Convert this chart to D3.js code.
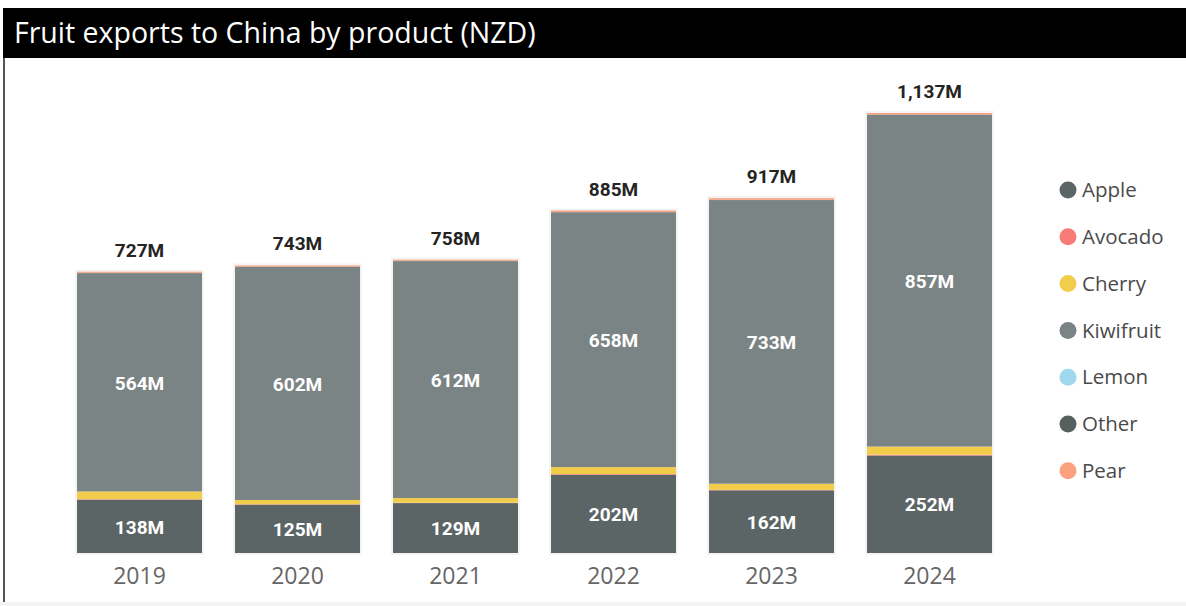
<!DOCTYPE html>
<html>
<head>
<meta charset="utf-8">
<script src="https://cdn.jsdelivr.net/npm/d3@7"></script>
<style>
  body { margin: 0; background: #fff; }
  svg { display: block; }
</style>
</head>
<body>
<div class="chart"></div>
<script>
// years on the x axis
var years = ["2019", "2020", "2021", "2022", "2023", "2024"];
// stack order, bottom to top
var products = ["Apple", "Avocado", "Cherry", "Kiwifruit", "Lemon", "Other", "Pear"];
var productColors = ["#5b6565", "#f77b77", "#f2cd4c", "#7b8484", "#9fd8eb", "#58605f", "#fba17e"];

// values in NZD millions
var apple     = [138, 125, 129, 202, 162, 252];
var avocado   = [1, 1, 1, 2, 1, 2];
var cherry    = [20, 11, 12, 18, 16, 21];
var kiwifruit = [564, 602, 612, 658, 733, 857];
var lemon     = [0, 0, 0, 0, 0, 0];
var other     = [1, 1, 1, 1, 1, 1];
var pear      = [3, 3, 3, 4, 4, 4];
var totals    = [727, 743, 758, 885, 917, 1137];

// only these segments carry an inside label
var labelled = ["Apple", "Kiwifruit"];

var width = 1186, height = 606;

var svg = d3.select(".chart").append("svg")
    .attr("width", width)
    .attr("height", height);

/************* frame + title ***************/
svg.append("rect")
    .attr("x", 0).attr("y", 602).attr("width", width).attr("height", 4)
    .attr("fill", "#f3f3f3");
svg.append("rect")
    .attr("x", 3).attr("y", 8).attr("width", 2).attr("height", 594)
    .attr("fill", "#555");
svg.append("rect")
    .attr("x", 3).attr("y", 8).attr("width", width - 3).attr("height", 50)
    .attr("fill", "#000");
svg.append("text")
    .attr("x", 14).attr("y", 43)
    .attr("fill", "#fff")
    .style("font-family", "'Open Sans', 'Noto Sans', sans-serif")
    .style("font-size", "28.5px")
    .text("Fruit exports to China by product (NZD)");

/************* table for the stack ***************/
var series = [apple, avocado, cherry, kiwifruit, lemon, other, pear];
var rows = years.map(function(y, i) {
    var row = { year: y, total: totals[i] };
    products.forEach(function(p, j) { row[p] = series[j][i]; });
    return row;
});

var stacked = d3.stack().keys(products)(rows);

/************* scales ***************/
var x = d3.scaleBand()
    .domain(years)
    .range([60.5, 1008.5])
    .paddingInner(0.209)
    .paddingOuter(0.1045);

var y = d3.scaleLinear()
    .domain([0, d3.max(totals)])
    .range([553, 113]);

var color = d3.scaleOrdinal()
    .domain(products)
    .range(productColors);

/************* bars ***************/
// faint halo behind each bar
svg.append("g")
    .selectAll("rect")
    .data(rows)
    .enter().append("rect")
        .attr("x", d => x(d.year) - 1)
        .attr("y", d => y(d.total) - 1)
        .attr("width", x.bandwidth() + 2)
        .attr("height", d => y(0) - y(d.total) + 2)
        .attr("fill", "none")
        .attr("stroke", "#f4f4f4")
        .attr("stroke-width", 2);

var layers = svg.append("g")
    .selectAll("g")
    .data(stacked)
    .enter().append("g")
        .attr("fill", d => color(d.key));

layers.selectAll("rect")
    .data(d => d)
    .enter().append("rect")
        .attr("x", d => x(d.data.year))
        .attr("y", d => y(d[1]))
        .attr("width", x.bandwidth())
        .attr("height", d => Math.max(0, y(d[0]) - y(d[1])));

/************* labels ***************/
var labelFont = "Roboto, 'DejaVu Sans', sans-serif";

layers.filter(d => labelled.indexOf(d.key) >= 0)
    .selectAll("text")
    .data(d => d)
    .enter().append("text")
        .attr("x", d => x(d.data.year) + x.bandwidth() / 2)
        .attr("y", d => (y(d[0]) + y(d[1])) / 2)
        .attr("dy", "0.38em")
        .attr("text-anchor", "middle")
        .attr("fill", "#fff")
        .style("font-family", labelFont)
        .style("font-weight", "bold")
        .style("font-size", "19px")
        .text(d => (d[1] - d[0]) + "M");

svg.append("g")
    .selectAll("text")
    .data(rows)
    .enter().append("text")
        .attr("x", d => x(d.year) + x.bandwidth() / 2)
        .attr("y", d => y(d.total) - 15)
        .attr("text-anchor", "middle")
        .attr("fill", "#252423")
        .style("font-family", labelFont)
        .style("font-weight", "bold")
        .style("font-size", "19px")
        .text(d => d3.format(",")(d.total) + "M");

/************* x axis ***************/
var xAxis = svg.append("g")
    .attr("transform", "translate(0,560)")
    .call(d3.axisBottom(x).tickSize(0).tickPadding(8));
xAxis.select(".domain").remove();
xAxis.selectAll("text")
    .attr("fill", "#666")
    .style("font-family", "'Open Sans', 'Noto Sans', sans-serif")
    .style("font-size", "23px");

/************* legend ***************/
var legend = svg.append("g")
    .selectAll("g")
    .data(products)
    .enter().append("g")
        .attr("transform", (d, i) => "translate(1068," + (190 + i * 46.8) + ")");

legend.append("circle")
    .attr("r", 8.5)
    .attr("fill", d => color(d));

legend.append("text")
    .attr("x", 14)
    .attr("dy", "0.35em")
    .attr("fill", "#4a4a4a")
    .style("font-family", "'Open Sans', 'Noto Sans', sans-serif")
    .style("font-size", "20.5px")
    .text(d => d);
</script>
</body>
</html>
